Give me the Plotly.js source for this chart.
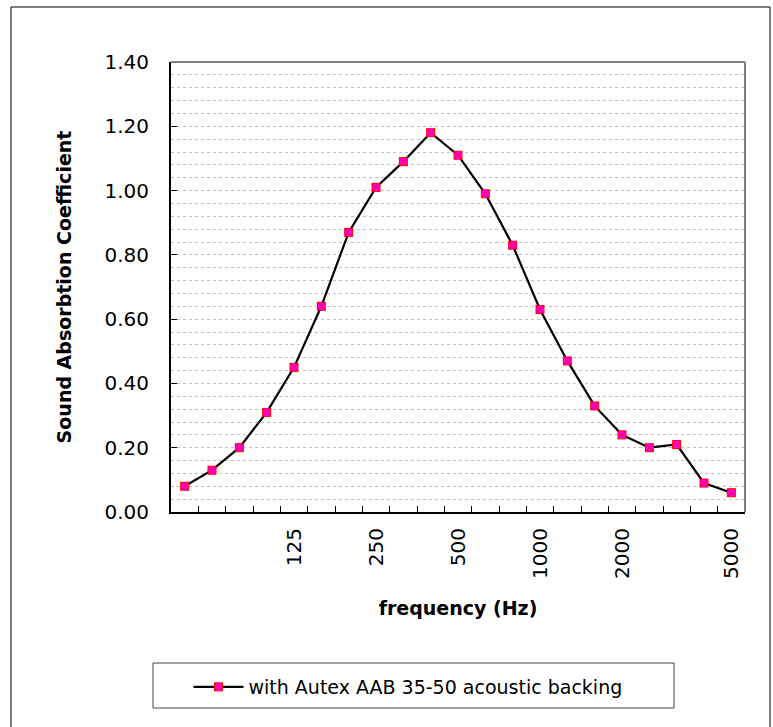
<!DOCTYPE html>
<html><head><meta charset="utf-8">
<script src="https://cdn.plot.ly/plotly-3.0.1.min.js"></script>
<style>html,body{margin:0;padding:0;background:#fff}</style>
</head><body>
<div id="chart" style="width:773px;height:727px"></div>
<script>
var frequencies = ['50','63','80','100','125','160','200','250','315','400','500','630','800','1000','1250','1600','2000','2500','3150','4000','5000'];
var absorption = [0.08,0.13,0.20,0.31,0.45,0.64,0.87,1.01,1.09,1.18,1.11,0.99,0.83,0.63,0.47,0.33,0.24,0.20,0.21,0.09,0.06];
var labelledTicks = ['125','250','500','1000','2000','5000'];
var seriesName = 'with Autex AAB 35-50 acoustic backing';

var tickText = frequencies.map(function(f){ return labelledTicks.indexOf(f) >= 0 ? f : ''; });

var L = 171, R = 745, T = 62, B = 512, W = 773, H = 727;
function px(x){ return (x - L) / (R - L); }
function py(y){ return (B - y) / (B - T); }

var trace = {
  x: frequencies, y: absorption, type: 'scatter', mode: 'lines+markers',
  name: seriesName,
  line: {color: '#000000', width: 2.2},
  marker: {symbol: 'square-x', size: 8, color: '#ff00ff', line: {color: '#ff0000', width: 1}}
};

var layout = {
  width: W, height: H,
  margin: {l: L, r: W - R, t: T, b: H - B, pad: 0},
  paper_bgcolor: '#ffffff', plot_bgcolor: '#ffffff',
  font: {family: 'DejaVu Sans, sans-serif', color: '#000000'},
  showlegend: true,
  legend: {x: px(408), y: py(687), xanchor: 'center', yanchor: 'middle', itemwidth: 50,
           bgcolor: 'rgba(0,0,0,0)', borderwidth: 0, font: {size: 19, color: '#000'}},
  xaxis: {
    type: 'category', range: [-0.5, 20.5], autorange: false,
    tickmode: 'array', tickvals: frequencies, ticktext: tickText,
    tickson: 'boundaries', ticks: 'inside', ticklen: 6, tickcolor: '#000', tickwidth: 1,
    tickangle: -90, tickfont: {size: 20}, ticklabelstandoff: 6,
    showline: true, linecolor: '#000', linewidth: 2,
    showgrid: false, zeroline: false,
    title: {text: 'frequency (Hz)', font: {size: 19, weight: 'bold'}, standoff: 24}
  },
  yaxis: {
    range: [0, 1.4], autorange: false, dtick: 0.2, tick0: 0, tickformat: '.2f',
    ticks: 'inside', ticklen: 6, tickcolor: '#000', tickwidth: 1,
    tickfont: {size: 20}, ticklabelstandoff: 16,
    showline: true, linecolor: '#000', linewidth: 2,
    showgrid: true, gridcolor: '#c0c0c0', griddash: 'dot', gridwidth: 1,
    minor: {dtick: 0.04, tick0: 0, showgrid: true, gridcolor: '#c0c0c0', griddash: 'dot', gridwidth: 1, ticks: ''},
    zeroline: false,
    title: {text: 'Sound Absorbtion Coefficient', font: {size: 19, weight: 'bold'}, standoff: 28}
  },
  shapes: [
    {type: 'line', xref: 'paper', yref: 'paper', x0: 0, x1: 1, y0: 1, y1: 1, line: {color: '#808080', width: 2}},
    {type: 'line', xref: 'paper', yref: 'paper', x0: 1, x1: 1, y0: 0, y1: 1, line: {color: '#808080', width: 2}},
    {type: 'rect', xref: 'paper', yref: 'paper', x0: px(153), x1: px(674), y0: py(663), y1: py(708), line: {color: '#404040', width: 1}, fillcolor: 'rgba(0,0,0,0)'},
    {type: 'rect', xref: 'paper', yref: 'paper', x0: px(11), x1: px(770), y0: py(7), y1: py(740), line: {color: '#000', width: 1}, fillcolor: 'rgba(0,0,0,0)'}
  ]
};

Plotly.newPlot('chart', [trace], layout, {displayModeBar: false, staticPlot: true});
</script>
</body></html>
